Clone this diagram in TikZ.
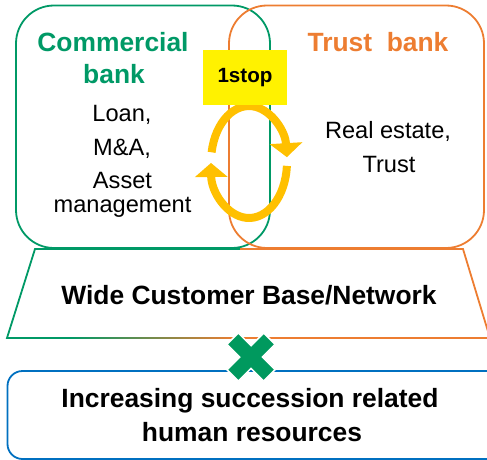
\documentclass[tikz,border=0pt]{standalone}
\usepackage{fontspec}
\setmainfont{Liberation Sans}
\usetikzlibrary{arrows.meta}
\definecolor{cbgreen}{RGB}{0,153,102}
\definecolor{tborange}{RGB}{237,125,49}
\definecolor{hrblue}{RGB}{0,112,192}
\definecolor{loopgold}{RGB}{255,192,0}
\definecolor{crossgreen}{RGB}{0,153,94}
\newcommand{\boldtext}{\fontsize{26.4}{32}\selectfont\bfseries}
\newcommand{\plaintext}{\fontsize{23.6}{30}\selectfont}
\newcommand{\looptip}{Triangle[width=32pt,length=14pt]}

\begin{document}
\begin{tikzpicture}[x=1pt,y=-1pt]
 \useasboundingbox (0,0) rectangle (487,460);
 \clip (0,0) rectangle (487,460);

 % the two banks
 \draw[cbgreen, line width=1.8pt, rounded corners=38pt] (16,5.5) rectangle (270,248);
 \draw[tborange, line width=1.8pt, rounded corners=38pt] (229,5.5) rectangle (484,248);

 % customer base
 \draw[cbgreen, line width=1.8pt] (70,338) -- (7,338) -- (35,249) -- (240,249);
 \draw[tborange, line width=1.8pt] (240,249) -- (463,249) -- (490,338) -- (235,338);
 \shade[left color=cbgreen, right color=tborange] (70,337.1) rectangle (236,338.9);

 % human resources
 \draw[hrblue, line width=1.8pt, rounded corners=15pt] (7.5,371) rectangle (510,459);

 % loop
 \draw[loopgold, line width=8pt, -{\looptip}] (211.6,152.3) arc[start angle=190, end angle=355, x radius=38, y radius=56];
 \draw[loopgold, line width=8pt, -{\looptip}] (286.9,165.9) arc[start angle=4, end angle=179, x radius=38, y radius=56];
 \node[fill=yellow, minimum width=84pt, minimum height=55pt, inner sep=0pt, font=\fontsize{20.6}{24}\selectfont\bfseries] (onestop) at (245,77.5) {1stop};

 % cross
 \filldraw[crossgreen, draw=white, line width=1.5pt, shift={(251,357)}, rotate=45]
   (8,26) -- (8,8) -- (26,8) -- (26,-8) -- (8,-8) -- (8,-26) -- (-8,-26) -- (-8,-8)
   -- (-26,-8) -- (-26,8) -- (-8,8) -- (-8,26) -- cycle;

 % texts
 \node[anchor=base, text=cbgreen, font=\boldtext] (cb1) at (113,52) {Commercial};
 \node[anchor=base, text=cbgreen, font=\boldtext] (cb2) at (114,83) {bank};
 \node[anchor=base, text=tborange, font=\boldtext] (tb) at (378,52) {Trust~~bank};
 \node[anchor=base, font=\plaintext] (loan) at (122,121) {Loan,};
 \node[anchor=base, font=\plaintext] (ma) at (122,155) {M\&A,};
 \node[anchor=base, font=\plaintext] (asset) at (122.5,188) {Asset};
 \node[anchor=base, font=\plaintext] (mgmt) at (122.5,212) {management};
 \node[anchor=base, font=\plaintext] (estate) at (388,138) {Real estate,};
 \node[anchor=base, font=\plaintext] (trust) at (389,172) {Trust};
 \node[anchor=base, font=\boldtext] (base) at (249,304) {Wide Customer Base/Network};
 \node[anchor=base, font=\boldtext] (hr1) at (250,407) {Increasing succession related};
 \node[anchor=base, font=\boldtext] (hr2) at (252,441) {human resources};
\end{tikzpicture}
\end{document}
